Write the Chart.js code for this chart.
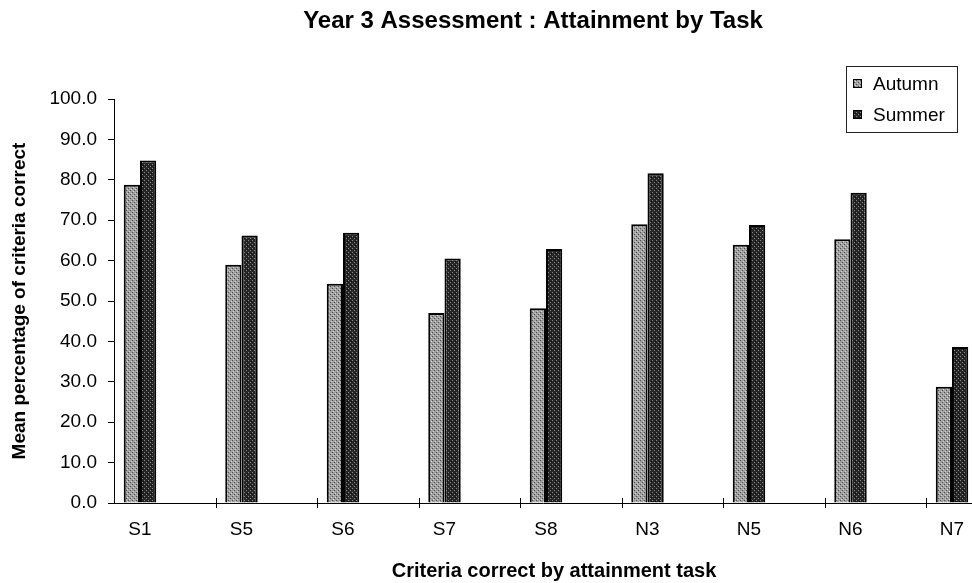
<!DOCTYPE html>
<html>
<head>
<meta charset="utf-8">
<title>Year 3 Assessment : Attainment by Task</title>
<script src="https://cdn.jsdelivr.net/npm/chart.js@4.4.1/dist/chart.umd.min.js"></script>
<style>
  html, body { margin: 0; padding: 0; background: #fff; }
  canvas { display: block; }
</style>
</head>
<body>
<canvas id="chart" width="972" height="583"></canvas>
<script>
// Attainment tasks and mean percentage of criteria correct per term
const categories = ['S1', 'S5', 'S6', 'S7', 'S8', 'N3', 'N5', 'N6', 'N7'];
const autumn = [78.8, 59.0, 54.3, 47.0, 48.2, 69.0, 63.9, 65.3, 28.8];
const summer = [84.8, 66.2, 66.9, 60.5, 62.9, 81.6, 68.8, 76.8, 38.6];
const yTicks = [0, 10, 20, 30, 40, 50, 60, 70, 80, 90, 100];

const chartTitle = 'Year 3 Assessment : Attainment by Task';
const xTitle = 'Criteria correct by attainment task';
const yTitle = 'Mean percentage of criteria correct';

const FONT = '"Liberation Sans", Arial, Helvetica, sans-serif';
Chart.defaults.font.family = FONT;
Chart.defaults.color = '#000';

const canvas = document.getElementById('chart');
const ctx = canvas.getContext('2d');

// Small stippled fills, like the dotted pattern fills of the printed bars
function stipple(base, dots) {
  const tile = document.createElement('canvas');
  tile.width = 4; tile.height = 4;
  const g = tile.getContext('2d');
  g.fillStyle = base;
  g.fillRect(0, 0, 4, 4);
  dots.forEach(([x, y, col]) => { g.fillStyle = col; g.fillRect(x, y, 1, 1); });
  return ctx.createPattern(tile, 'repeat');
}
const autumnFill = stipple('#a0a0a0', [[0, 0, '#4c4c4c'], [2, 2, '#4c4c4c'], [1, 3, '#d2d2d2'], [3, 1, '#d2d2d2']]);
const summerFill = stipple('#262626', [[0, 0, '#8a8a8a'], [2, 2, '#8a8a8a'], [3, 1, '#0c0c0c']]);

// Category band edges along the linear x axis: the value axis sits on the first edge
const bandStart = -0.256;
const bandEnd = 8.197;

// Short cross marks on the category axis at each band edge
const bandTicks = {
  id: 'bandTicks',
  afterDraw(chart) {
    const x = chart.scales.x, y = chart.scales.y, c = chart.ctx;
    c.save();
    c.strokeStyle = '#000';
    c.lineWidth = 1;
    for (let k = 1; k <= categories.length; k++) {
      const px = Math.round(x.getPixelForValue(bandStart + k)) + 0.5;
      if (px > x.right) break;
      c.beginPath();
      c.moveTo(px, y.bottom - 5);
      c.lineTo(px, y.bottom + 5);
      c.stroke();
    }
    c.restore();
  }
};

// Chart heading and category axis caption
const captions = {
  id: 'captions',
  afterDraw(chart) {
    const c = chart.ctx;
    c.save();
    c.fillStyle = '#000';
    c.textAlign = 'center';
    c.textBaseline = 'middle';
    c.font = 'bold 24px ' + FONT;
    c.fillText(chartTitle, 533, 21);
    c.font = 'bold 20px ' + FONT;
    c.fillText(xTitle, 554, 571);
    c.restore();
  }
};

// Boxed legend in the top right corner
const boxLegend = {
  id: 'boxLegend',
  afterDraw(chart) {
    const c = chart.ctx;
    const box = { left: 846, top: 66, width: 111, height: 66 };
    const rows = [84, 115];
    c.save();
    c.fillStyle = '#fff';
    c.fillRect(box.left, box.top, box.width, box.height);
    c.strokeStyle = '#222';
    c.lineWidth = 1;
    c.strokeRect(box.left + 0.5, box.top + 0.5, box.width, box.height);
    c.font = '19px ' + FONT;
    c.textBaseline = 'middle';
    c.textAlign = 'left';
    chart.data.datasets.forEach((ds, i) => {
      const cy = rows[i];
      c.fillStyle = ds.backgroundColor;
      c.fillRect(853, cy - 5, 9, 9);
      c.strokeStyle = '#000';
      c.strokeRect(853.5, cy - 4.5, 8, 8);
      c.fillStyle = '#000';
      c.fillText(ds.label, 873, cy + 1);
    });
    c.restore();
  }
};

new Chart(canvas, {
  type: 'bar',
  data: {
    datasets: [
      {
        label: 'Autumn',
        data: autumn.map((v, i) => ({ x: i, y: v })),
        backgroundColor: autumnFill,
        borderColor: '#000',
        borderWidth: 2,
        categoryPercentage: 0.32,
        barPercentage: 1.0
      },
      {
        label: 'Summer',
        data: summer.map((v, i) => ({ x: i, y: v })),
        backgroundColor: summerFill,
        borderColor: '#000',
        borderWidth: 2,
        categoryPercentage: 0.32,
        barPercentage: 1.0
      }
    ]
  },
  options: {
    responsive: false,
    animation: false,
    devicePixelRatio: 1,
    layout: { padding: { top: 99, left: 0, right: 0, bottom: 0 } },
    plugins: {
      legend: { display: false },
      title: { display: false },
      tooltip: { enabled: false }
    },
    scales: {
      x: {
        type: 'linear',
        offset: false,
        bounds: 'data',
        min: bandStart,
        max: bandEnd,
        afterBuildTicks: s => { s.ticks = categories.map((_, i) => ({ value: i })); },
        afterFit: s => { s.height = 80; s.paddingLeft = 0; s.paddingRight = 0; },
        ticks: {
          callback: v => categories[v],
          font: { size: 19 },
          color: '#000',
          padding: 15,
          autoSkip: false,
          maxRotation: 0
        },
        grid: { display: true, offset: false, drawOnChartArea: false, drawTicks: false },
        border: { display: true, color: '#000', width: 1 },
        title: { display: false, text: xTitle }
      },
      y: {
        min: 0,
        max: 100,
        afterBuildTicks: s => { s.ticks = yTicks.map(v => ({ value: v })); },
        afterFit: s => { s.width = 114; },
        ticks: {
          callback: v => v.toFixed(1),
          font: { size: 19 },
          color: '#000',
          padding: 11
        },
        grid: { drawOnChartArea: false, drawTicks: true, tickLength: 6, color: '#000' },
        border: { display: true, color: '#000', width: 1 },
        title: {
          display: true,
          text: yTitle,
          font: { size: 19, weight: 'bold' },
          color: '#000',
          padding: { top: 8, bottom: 0 }
        }
      }
    }
  },
  plugins: [bandTicks, captions, boxLegend]
});
</script>
</body>
</html>
